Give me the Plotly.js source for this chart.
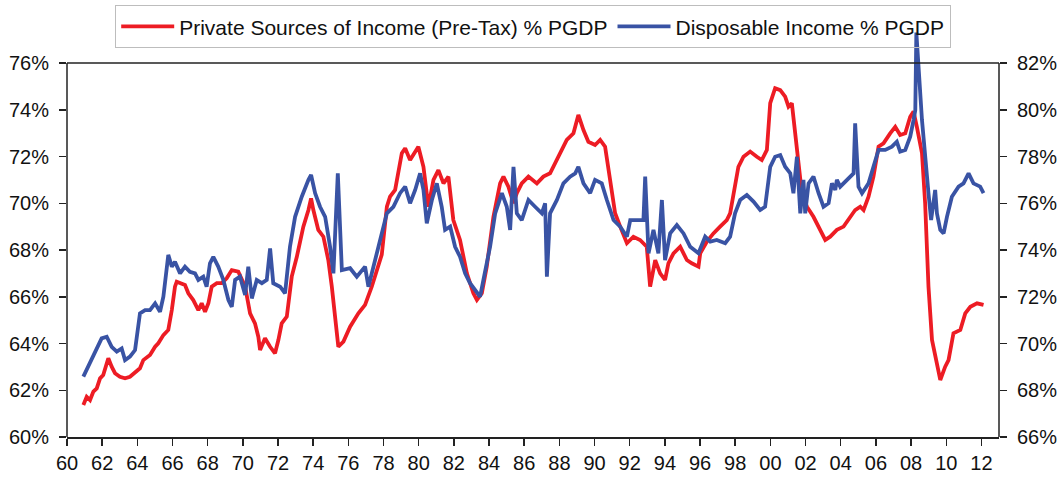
<!DOCTYPE html>
<html>
<head>
<meta charset="utf-8">
<script src="https://cdn.plot.ly/plotly-3.0.1.min.js"></script>
<style>
  html, body { margin: 0; padding: 0; background: #fff; }
  #chart { width: 1060px; height: 480px; }
</style>
</head>
<body>
<div id="chart"></div>
<script>
// Private sources of income (pre-tax) % PGDP  -- left axis
const redYears = [1960.93,1961.12,1961.31,1961.50,1961.69,1961.88,1962.06,1962.35,1962.54,1962.73,1963.01,1963.30,1963.58,1963.87,1964.15,1964.34,1964.72,1965.01,1965.19,1965.48,1965.76,1965.96,1966.14,1966.24,1966.52,1966.71,1966.90,1967.18,1967.47,1967.66,1967.85,1968.04,1968.23,1968.52,1968.80,1969.08,1969.37,1969.74,1970.13,1970.41,1970.69,1970.88,1970.98,1971.26,1971.55,1971.83,1972.02,1972.21,1972.50,1972.78,1973.07,1973.44,1973.73,1973.88,1974.01,1974.29,1974.58,1974.86,1975.06,1975.24,1975.43,1975.72,1976.10,1976.57,1976.95,1977.33,1977.62,1977.90,1978.19,1978.37,1978.66,1979.04,1979.23,1979.51,1979.98,1980.27,1980.55,1980.84,1981.12,1981.41,1981.69,1981.97,1982.35,1982.74,1983.11,1983.31,1983.59,1983.87,1984.25,1984.63,1984.82,1985.10,1985.39,1985.58,1985.86,1986.24,1986.72,1987.09,1987.47,1987.86,1988.04,1988.42,1988.80,1989.08,1989.37,1989.65,1990.03,1990.32,1990.60,1990.89,1991.17,1991.46,1991.84,1992.21,1992.59,1992.97,1993.16,1993.45,1993.73,1994.01,1994.20,1994.49,1994.87,1995.25,1995.53,1995.91,1996.01,1996.39,1996.76,1997.14,1997.52,1997.71,1997.99,1998.18,1998.47,1998.85,1999.23,1999.51,1999.80,1999.99,2000.27,2000.56,2000.84,2001.03,2001.22,2001.41,2001.60,2001.79,2002.08,2002.45,2002.83,2003.12,2003.40,2003.78,2004.16,2004.54,2004.82,2005.11,2005.30,2005.58,2005.86,2006.15,2006.43,2006.81,2007.10,2007.38,2007.67,2007.95,2008.14,2008.33,2008.62,2008.80,2008.99,2009.19,2009.47,2009.66,2009.94,2010.13,2010.41,2010.80,2011.08,2011.37,2011.75,2012.12];
const redValues = [61.37,61.72,61.58,61.94,62.08,62.51,62.65,63.37,63.01,62.73,62.58,62.51,62.58,62.79,62.94,63.29,63.51,63.86,64.01,64.36,64.58,65.43,66.43,66.64,66.58,66.50,66.15,65.86,65.43,65.72,65.36,65.72,66.43,66.58,66.58,66.79,67.14,67.07,66.43,65.29,64.86,64.29,63.72,64.22,63.86,63.58,64.15,64.86,65.15,66.86,67.71,69.00,69.71,70.21,69.71,68.86,68.57,67.57,66.43,65.01,63.86,64.08,64.72,65.29,65.65,66.43,67.14,67.80,69.85,70.28,70.57,72.14,72.35,71.85,72.42,71.56,69.85,71.00,71.42,70.85,71.14,69.28,68.43,67.00,66.15,65.86,66.15,67.29,69.42,70.85,71.14,70.71,70.00,70.43,70.85,71.14,70.85,71.14,71.28,71.85,72.14,72.71,72.99,73.78,73.13,72.63,72.49,72.71,72.42,71.00,69.57,69.00,68.29,68.57,68.43,68.14,66.43,67.57,67.00,66.72,67.43,67.86,68.14,67.57,67.43,67.29,67.86,68.36,68.71,69.00,69.28,69.57,70.71,71.56,71.99,72.21,71.99,71.85,72.28,74.28,74.92,74.84,74.56,74.13,74.28,72.85,71.71,70.43,69.85,69.42,68.86,68.43,68.57,68.86,69.00,69.42,69.71,69.85,69.71,70.28,71.14,72.42,72.56,72.99,73.27,72.92,72.99,73.70,73.92,73.27,72.14,70.00,66.43,64.15,63.01,62.44,63.01,63.29,64.44,64.58,65.29,65.57,65.72,65.65];

// Disposable income % PGDP -- right axis
const blueYears = [1960.93,1961.21,1961.50,1961.78,1961.97,1962.26,1962.54,1962.83,1963.11,1963.30,1963.58,1963.87,1964.15,1964.44,1964.72,1965.01,1965.29,1965.48,1965.76,1965.96,1966.14,1966.43,1966.71,1966.99,1967.28,1967.47,1967.75,1967.94,1968.13,1968.32,1968.60,1968.89,1969.18,1969.37,1969.56,1969.84,1970.13,1970.31,1970.51,1970.79,1971.08,1971.36,1971.55,1971.73,1972.12,1972.40,1972.68,1972.97,1973.35,1973.73,1973.88,1974.11,1974.39,1974.68,1974.96,1975.15,1975.40,1975.63,1976.10,1976.48,1976.95,1977.14,1977.42,1977.71,1977.99,1978.19,1978.56,1978.94,1979.23,1979.51,1979.80,1980.08,1980.27,1980.46,1980.75,1981.03,1981.31,1981.50,1981.79,1982.07,1982.35,1982.64,1982.92,1983.21,1983.49,1983.68,1984.06,1984.35,1984.73,1985.01,1985.20,1985.39,1985.58,1985.86,1986.24,1986.62,1987.00,1987.19,1987.29,1987.47,1987.86,1988.23,1988.61,1988.90,1989.08,1989.37,1989.75,1990.03,1990.41,1990.70,1991.08,1991.46,1991.84,1992.03,1992.41,1992.78,1992.88,1993.07,1993.35,1993.63,1993.83,1994.01,1994.30,1994.68,1995.06,1995.44,1995.91,1996.29,1996.58,1996.95,1997.43,1997.71,1997.99,1998.28,1998.66,1999.04,1999.42,1999.70,1999.99,2000.27,2000.56,2000.84,2001.13,2001.31,2001.51,2001.70,2001.88,2001.98,2002.17,2002.45,2002.74,2003.02,2003.31,2003.50,2003.69,2003.78,2003.97,2004.35,2004.73,2004.82,2005.01,2005.21,2005.58,2005.86,2006.15,2006.53,2006.91,2007.19,2007.38,2007.67,2007.95,2008.14,2008.24,2008.30,2008.62,2008.99,2009.14,2009.37,2009.47,2009.66,2009.85,2010.04,2010.32,2010.70,2010.98,2011.27,2011.55,2011.93,2012.12];
const blueValues = [68.58,69.01,69.44,69.86,70.22,70.29,69.86,69.65,69.79,69.29,69.44,69.72,71.29,71.43,71.43,71.72,71.36,72.00,73.79,73.29,73.50,73.00,73.29,73.07,73.00,72.72,72.86,72.43,73.43,73.71,73.29,72.72,71.86,71.57,72.72,72.86,72.08,73.29,71.93,72.72,72.58,72.72,74.07,72.58,72.43,72.15,74.14,75.42,76.28,77.00,77.21,76.43,75.85,75.42,74.14,73.00,77.28,73.14,73.22,72.86,73.29,72.43,73.29,74.14,75.00,75.57,75.85,76.43,76.71,76.00,76.57,77.28,76.57,75.14,76.14,76.85,75.85,74.86,75.00,74.14,73.71,73.00,72.58,72.29,72.00,72.72,74.14,75.57,76.43,75.85,74.86,77.56,75.57,75.28,76.14,75.85,75.57,76.00,72.86,75.57,76.14,76.85,77.14,77.28,77.56,76.85,76.43,77.00,76.85,76.14,75.28,75.00,74.57,75.28,75.28,75.28,77.14,73.86,74.86,73.86,76.14,73.57,74.71,75.07,74.71,74.14,73.86,74.57,74.36,74.43,74.29,74.57,75.57,76.14,76.35,76.07,75.71,75.85,77.56,77.99,78.06,77.56,77.28,76.43,77.99,75.57,77.00,75.57,76.85,77.14,76.43,75.85,76.00,76.85,76.57,77.00,76.71,77.00,77.28,79.42,76.71,76.43,76.85,77.56,78.28,78.28,78.42,78.63,78.21,78.28,78.85,79.56,79.99,83.30,79.56,76.43,75.28,76.57,75.57,74.86,74.71,75.42,76.28,76.71,76.85,77.28,76.85,76.71,76.43];

const xTickVals = [1960,1962,1964,1966,1968,1970,1972,1974,1976,1978,1980,1982,1984,1986,1988,1990,1992,1994,1996,1998,2000,2002,2004,2006,2008,2010,2012];
const xTickText = ['60','62','64','66','68','70','72','74','76','78','80','82','84','86','88','90','92','94','96','98','00','02','04','06','08','10','12'];
const leftTickVals = [60,62,64,66,68,70,72,74,76];
const leftTickText = ['60%','62%','64%','66%','68%','70%','72%','74%','76%'];
const rightTickVals = [66,68,70,72,74,76,78,80,82];
const rightTickText = ['66%','68%','70%','72%','74%','76%','78%','80%','82%'];

const FONT = 'Liberation Sans, Arial, Helvetica, sans-serif';
const AX = '#222222';

const traces = [
  {
    x: redYears, y: redValues, type: 'scatter', mode: 'lines',
    name: 'Private Sources of Income (Pre-Tax) % PGDP',
    line: { color: '#ED1C24', width: 3.8 }, yaxis: 'y'
  },
  {
    x: blueYears, y: blueValues, type: 'scatter', mode: 'lines',
    name: 'Disposable Income % PGDP',
    line: { color: '#3953A4', width: 3.8 }, yaxis: 'y2'
  }
];

const layout = {
  width: 1060, height: 480,
  paper_bgcolor: '#ffffff', plot_bgcolor: '#ffffff',
  margin: { l: 67, r: 61, t: 30, b: 43, pad: 0, autoexpand: false },
  font: { family: FONT, color: '#111111' },
  hovermode: false,
  showlegend: true,
  legend: {
    orientation: 'h', x: 0.0515, y: 1.0614, xanchor: 'left', yanchor: 'top',
    bgcolor: 'rgba(255,255,255,0)', bordercolor: '#BDBDBD', borderwidth: 1.2,
    font: { family: FONT, size: 21, color: '#111111' },
    itemwidth: 53, tracegroupgap: 0
  },
  xaxis: {
    range: [1960, 2013], tickmode: 'array', tickvals: xTickVals, ticktext: xTickText,
    ticks: 'outside', ticklen: 7, tickwidth: 1.5, tickcolor: AX,
    showline: true, linecolor: AX, linewidth: 1.5,
    showgrid: false, zeroline: false,
    tickfont: { family: FONT, size: 20, color: '#111111' }
  },
  yaxis: {
    range: [60, 77.412], tickmode: 'array', tickvals: leftTickVals, ticktext: leftTickText,
    ticks: 'outside', ticklen: 7, tickwidth: 1.5, tickcolor: AX,
    showline: false, showgrid: false, zeroline: false,
    ticklabelstandoff: 6,
    tickfont: { family: FONT, size: 20, color: '#111111' }
  },
  yaxis2: {
    range: [66, 83.412], tickmode: 'array', tickvals: rightTickVals, ticktext: rightTickText,
    overlaying: 'y', side: 'right',
    ticks: 'outside', ticklen: 7, tickwidth: 1.5, tickcolor: AX,
    showline: false, showgrid: false, zeroline: false,
    ticklabelstandoff: 6,
    tickfont: { family: FONT, size: 20, color: '#111111' }
  },
  shapes: [
    { type: 'line', xref: 'paper', yref: 'y', x0: 0, x1: 0, y0: 60, y1: 76, line: { color: AX, width: 1.5 } },
    { type: 'line', xref: 'paper', yref: 'y', x0: 1, x1: 1, y0: 60, y1: 76, line: { color: AX, width: 1.5 } },
    { type: 'line', xref: 'paper', yref: 'y', x0: 0, x1: 1, y0: 76, y1: 76, line: { color: AX, width: 1.5 } }
  ]
};

Plotly.newPlot('chart', traces, layout, { staticPlot: true, displayModeBar: false });
</script>
</body>
</html>
